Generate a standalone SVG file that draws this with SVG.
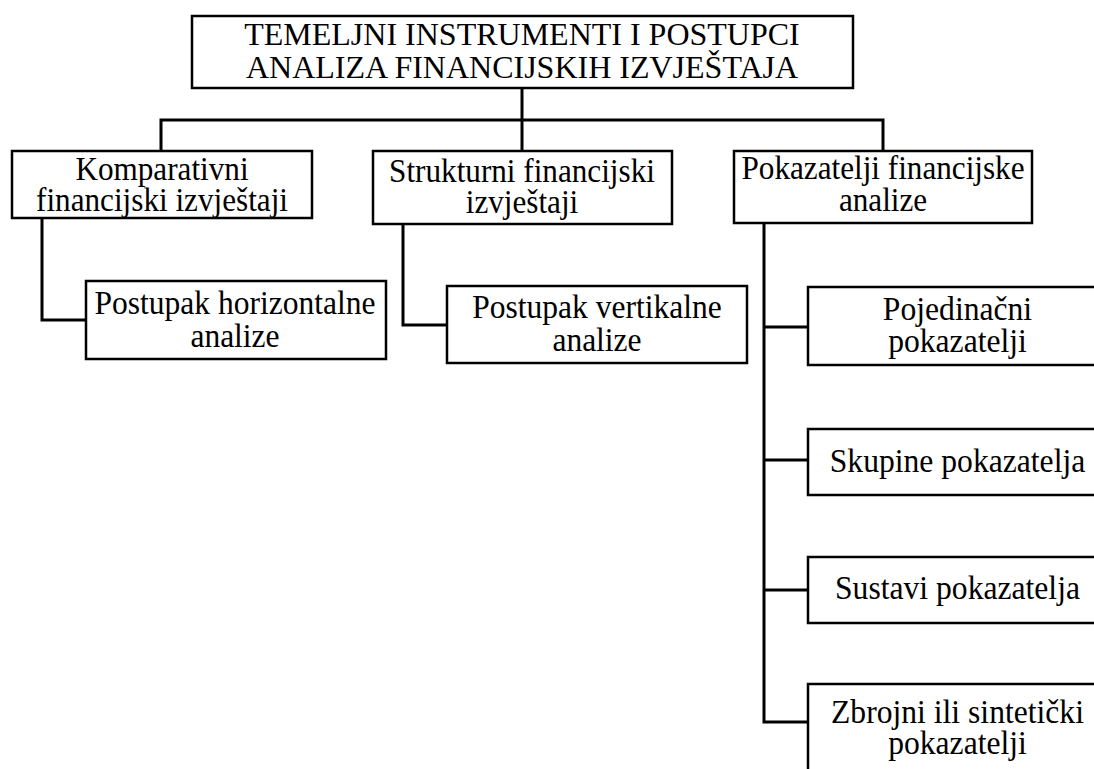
<svg xmlns="http://www.w3.org/2000/svg" width="1094" height="769" viewBox="0 0 1094 769">
<style>
.box{fill:#fff;stroke:#000;stroke-width:2.5}
.ln{fill:none;stroke:#000;stroke-width:3}
text{font-family:"Liberation Serif","Times New Roman",serif;font-size:33px;fill:#000;text-anchor:middle}
.big{font-size:32px}
.ch{font-size:34px}
</style>
<rect width="1094" height="769" fill="#fff"/>
<g id="connectors">
<path class="ln" d="M522 88V151"/>
<path class="ln" d="M161 151V120H883V151"/>
<path class="ln" d="M42 218V320H86"/>
<path class="ln" d="M403 224V325H447"/>
<path class="ln" d="M764 223V722H808"/>
<path class="ln" d="M764 327H808M764 460H808M764 590H808"/>
</g>
<g id="root">
<rect class="box" x="192" y="16" width="661" height="72"/>
<text class="big" x="522" y="45">TEMELJNI INSTRUMENTI I POSTUPCI<tspan x="522" dy="33">ANALIZA FINANCIJSKIH IZVJEŠTAJA</tspan></text>
</g>
<g id="komparativni">
<rect class="box" x="12" y="151" width="300" height="67"/>
<text transform="translate(162 0) scale(0.945 1)" x="0" y="180">Komparativni<tspan x="0" dy="31">financijski izvještaji</tspan></text>
</g>
<g id="strukturni">
<rect class="box" x="373" y="151" width="299" height="73"/>
<text transform="translate(522 0) scale(0.945 1)" x="0" y="182">Strukturni financijski<tspan x="0" dy="31">izvještaji</tspan></text>
</g>
<g id="pokazatelji">
<rect class="box" x="734" y="151" width="298" height="72"/>
<text transform="translate(883 0) scale(0.945 1)" x="0" y="179">Pokazatelji financijske<tspan x="0" dy="32">analize</tspan></text>
</g>
<g id="horizontalna">
<rect class="box" x="86" y="281" width="300" height="78"/>
<text transform="translate(235 0) scale(0.955 1)" x="0" y="314">Postupak horizontalne<tspan x="0" dy="33">analize</tspan></text>
</g>
<g id="vertikalna">
<rect class="box" x="447" y="286" width="300" height="77"/>
<text transform="translate(597 0) scale(0.955 1)" x="0" y="318">Postupak vertikalne<tspan x="0" dy="33">analize</tspan></text>
</g>
<g id="pojedinacni">
<rect class="box" x="808" y="287" width="300" height="78"/>
<text class="ch" transform="translate(957.5 0) scale(0.93 1)" x="0" y="320">Pojedinačni<tspan x="0" dy="32">pokazatelji</tspan></text>
</g>
<g id="skupine">
<rect class="box" x="808" y="429" width="300" height="66"/>
<text class="ch" transform="translate(957.5 0) scale(0.93 1)" x="0" y="472">Skupine pokazatelja</text>
</g>
<g id="sustavi">
<rect class="box" x="808" y="557" width="300" height="66"/>
<text class="ch" transform="translate(957.5 0) scale(0.93 1)" x="0" y="599">Sustavi pokazatelja</text>
</g>
<g id="zbrojni">
<rect class="box" x="808" y="684" width="300" height="100"/>
<text class="ch" transform="translate(957.5 0) scale(0.93 1)" x="0" y="723">Zbrojni ili sintetički<tspan x="0" dy="31">pokazatelji</tspan></text>
</g>
</svg>
